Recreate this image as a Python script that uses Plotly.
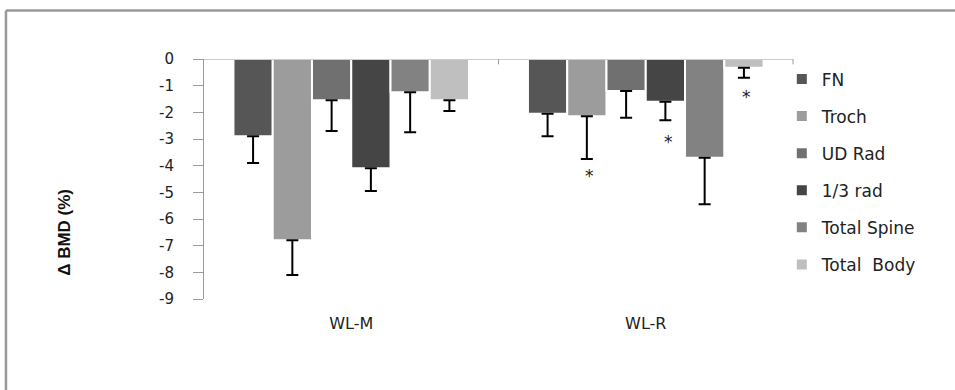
import plotly.graph_objects as go

# Groups and measurement sites
groups = ["WL-M", "WL-R"]
sites = ["FN", "Troch", "UD Rad", "1/3 rad", "Total Spine", "Total  Body"]
colors = ["#565656", "#9c9c9c", "#707070", "#454545", "#828282", "#bfbfbf"]

# Mean percent change in BMD per site: [WL-M, WL-R]
bmd_change = {
    "FN": [-2.9, -2.05],
    "Troch": [-6.8, -2.15],
    "UD Rad": [-1.55, -1.2],
    "1/3 rad": [-4.1, -1.6],
    "Total Spine": [-1.25, -3.7],
    "Total  Body": [-1.55, -0.33],
}
# Lower error bar length (SE)
bmd_err = {
    "FN": [1.0, 0.85],
    "Troch": [1.3, 1.6],
    "UD Rad": [1.15, 1.0],
    "1/3 rad": [0.85, 0.7],
    "Total Spine": [1.5, 1.75],
    "Total  Body": [0.4, 0.37],
}

# Significance markers in the WL-R group: (site index, y position)
star_marks = [(1, -4.4), (3, -3.1), (5, -1.42)]

y_ticks = list(range(0, -10, -1))

FONT = "DejaVu Sans, Verdana, sans-serif"

fig = go.Figure()
for site, col in zip(sites, colors):
    fig.add_trace(go.Bar(
        name=site,
        x=groups,
        y=bmd_change[site],
        marker=dict(color=col, line=dict(color="white", width=2)),
        error_y=dict(type="data", symmetric=False,
                     array=[0] * len(groups), arrayminus=bmd_err[site],
                     color="black", thickness=2, width=6),
        legendgroup=site,
    ))

# Asterisks below selected WL-R bars
plot_w = 589
slot = plot_w / 2 * 0.8 / len(sites)
for idx, yv in star_marks:
    fig.add_annotation(x="WL-R", y=yv, xref="x", yref="y",
                       text="*", showarrow=False,
                       xshift=(idx - (len(sites) - 1) / 2) * slot + 3,
                       font=dict(family=FONT, size=17, color="#222"))

# Y axis title
fig.add_annotation(x=-0.236, y=0.28, xref="paper", yref="paper",
                   xanchor="center", yanchor="middle",
                   text="<b>Δ BMD (%)</b>", textangle=-90, showarrow=False,
                   font=dict(family="Liberation Sans Narrow, Arial Narrow, sans-serif",
                             size=17, color="#111"))

shapes = [
    # category axis along y = 0
    dict(type="line", xref="paper", yref="y", x0=0, x1=1, y0=0, y1=0,
         line=dict(color="#9a9a9a", width=1)),
    # category boundary ticks
    dict(type="line", xref="paper", yref="y", x0=0.5, x1=0.5, y0=0, y1=-0.2,
         line=dict(color="#9a9a9a", width=1)),
    dict(type="line", xref="paper", yref="y", x0=1, x1=1, y0=0, y1=-0.2,
         line=dict(color="#9a9a9a", width=1)),
    # outer frame (top and left edges)
    dict(type="line", xref="paper", yref="paper", x0=-0.3362, x1=1.3, y0=1.202, y1=1.202,
         line=dict(color="#999999", width=2.5)),
    dict(type="line", xref="paper", yref="paper", x0=-0.3362, x1=-0.3362, y0=1.202, y1=-0.4,
         line=dict(color="#999999", width=2.5)),
]

fig.update_layout(
    width=955, height=390,
    margin=dict(l=204, r=162, t=59, b=91),
    paper_bgcolor="white", plot_bgcolor="white",
    barmode="group", bargap=0.2, bargroupgap=0,
    shapes=shapes,
    showlegend=True,
    legend=dict(x=0.981, xanchor="left", y=0.99, yanchor="top",
                font=dict(family=FONT, size=17, color="#222"),
                tracegroupgap=12, itemwidth=30, bgcolor="rgba(0,0,0,0)"),
    xaxis=dict(type="category", showline=False, ticks="", showgrid=False,
               tickfont=dict(family=FONT, size=16, color="#222"),
               ticklabelstandoff=13),
    yaxis=dict(range=[-9, 0], tickvals=y_ticks, ticktext=[str(v) for v in y_ticks],
               showgrid=False, zeroline=False, showline=True, linecolor="#9a9a9a",
               linewidth=1, ticks="outside", ticklen=10, tickcolor="#9a9a9a",
               tickfont=dict(family=FONT, size=15, color="#222"),
               ticklabelstandoff=16),
)

fig.write_html("out.html")
